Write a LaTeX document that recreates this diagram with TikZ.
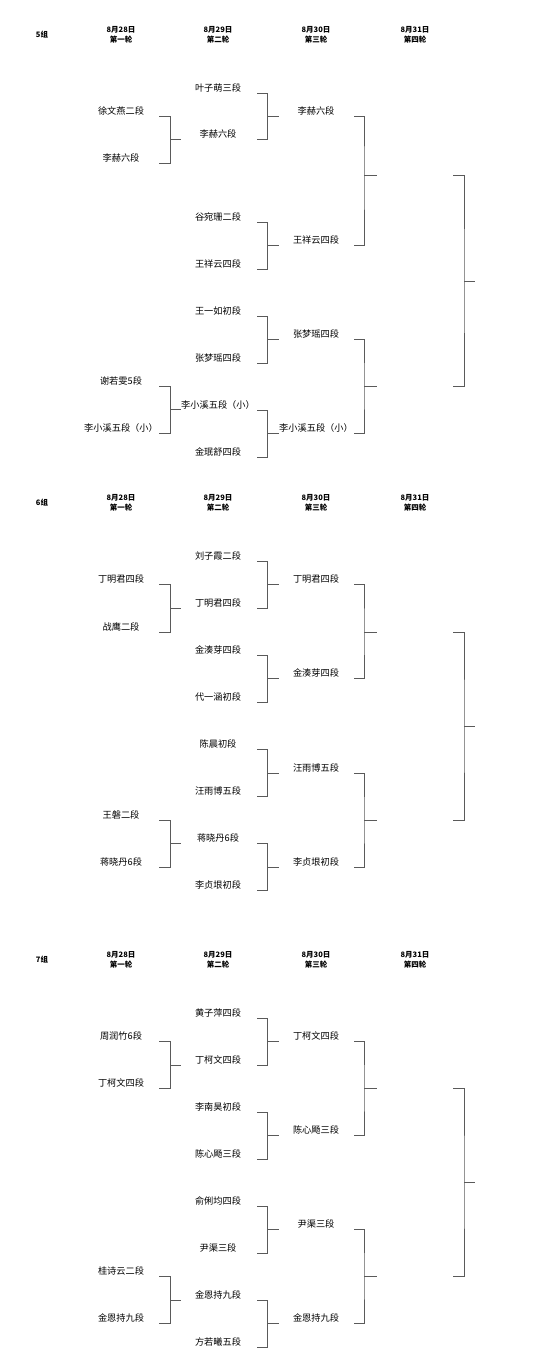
\documentclass[tikz,border=0pt]{standalone}
\usepackage{fontspec}
\setmainfont{Noto Sans CJK SC}
\definecolor{lnc}{RGB}{90,90,90}
\tikzset{
  nm/.style={font=\fontsize{9.2}{11}\selectfont, text=black, inner sep=0pt},
  hd/.style={font=\bfseries\fontsize{7.5}{9.6}\selectfont, text=black, inner sep=0pt, align=center},
  bline/.style={draw=lnc, line width=0.8pt}
}
% bracket: #1 name, #2 x left, #3 x vertical, #4 x stub end, #5 y top, #6 y bottom, #7 y stub
\newcommand\brk[7]{%
  \coordinate (#1t) at (#2,#5);
  \coordinate (#1b) at (#2,#6);
  \coordinate (#1m) at (#3,#7);
  \coordinate (#1s) at (#4,#7);
  \draw[bline] (#1t) -| (#1m) |- (#1b);
  \draw[bline] (#1m) -- (#1s);
}
\newcommand\rA[6]{\brk{#1}{159}{170.5}{181}{#2}{#3}{#4}}
\newcommand\rB[6]{\brk{#1}{257}{267.5}{279}{#2}{#3}{#4}}
\newcommand\rC[6]{\brk{#1}{354}{364}{377}{#2}{#3}{#4}}
\newcommand\rD[6]{\brk{#1}{453}{464}{475}{#2}{#3}{#4}}
\newcommand\hdrs[2]{%
  \node[hd] (#1g) at (42,#2+5) {#1组};
  \node[hd] (#1h1) at (121,#2+5) {8月28日\\第一轮};
  \node[hd] (#1h2) at (218,#2+5) {8月29日\\第二轮};
  \node[hd] (#1h3) at (316,#2+5) {8月30日\\第三轮};
  \node[hd] (#1h4) at (415,#2+5) {8月31日\\第四轮};
}
\begin{document}
\begin{tikzpicture}[x=1pt,y=-1pt]
\useasboundingbox (0,0) rectangle (550,1371);
% ---------------- group 5 ----------------
\hdrs{5}{30}
\node[nm] (a11) at (121,111) {徐文燕二段};
\node[nm] (a12) at (121,158) {李赫六段};
\node[nm] (a13) at (121,381) {谢若雯5段};
\node[nm] (a14) at (121,428) {李小溪五段（小）};
\node[nm] (a21) at (218,88) {叶子萌三段};
\node[nm] (a22) at (218,134) {李赫六段};
\node[nm] (a23) at (218,217) {谷宛珊二段};
\node[nm] (a24) at (218,264) {王祥云四段};
\node[nm] (a25) at (218,311) {王一如初段};
\node[nm] (a26) at (218,358) {张梦瑶四段};
\node[nm] (a27) at (218,405) {李小溪五段（小）};
\node[nm] (a28) at (218,452) {金珉舒四段};
\node[nm] (a31) at (316,111) {李赫六段};
\node[nm] (a32) at (316,240) {王祥云四段};
\node[nm] (a33) at (316,334) {张梦瑶四段};
\node[nm] (a34) at (316,428) {李小溪五段（小）};
\rA{ab11}{116}{163}{139.5}{}{}
\rA{ab12}{386}{433}{409.5}{}{}
\rB{ab21}{93}{139}{116}{}{}
\rB{ab22}{222}{269}{245.5}{}{}
\rB{ab23}{316}{363}{339.5}{}{}
\rB{ab24}{410}{457}{433.5}{}{}
\rC{ab31}{116}{245.5}{175}{}{}
\rC{ab32}{339.5}{433.5}{386}{}{}
\rD{ab41}{175}{386}{281}{}{}
% ---------------- group 6 ----------------
\hdrs{6}{498}
\node[nm] (b11) at (121,579) {丁明君四段};
\node[nm] (b12) at (121,627) {战鹰二段};
\node[nm] (b13) at (121,815) {王磐二段};
\node[nm] (b14) at (121,862) {蒋晓丹6段};
\node[nm] (b21) at (218,556) {刘子霞二段};
\node[nm] (b22) at (218,603) {丁明君四段};
\node[nm] (b23) at (218,650) {金湊芽四段};
\node[nm] (b24) at (218,697) {代一涵初段};
\node[nm] (b25) at (218,744) {陈晨初段};
\node[nm] (b26) at (218,791) {汪雨博五段};
\node[nm] (b27) at (218,838) {蒋晓丹6段};
\node[nm] (b28) at (218,885) {李贞垠初段};
\node[nm] (b31) at (316,579) {丁明君四段};
\node[nm] (b32) at (316,673) {金湊芽四段};
\node[nm] (b33) at (316,768) {汪雨博五段};
\node[nm] (b34) at (316,862) {李贞垠初段};
\rA{bb11}{584}{632}{608}{}{}
\rA{bb12}{820}{867}{843}{}{}
\rB{bb21}{561}{608}{584}{}{}
\rB{bb22}{655}{702}{678}{}{}
\rB{bb23}{749}{796}{773}{}{}
\rB{bb24}{843}{890}{867}{}{}
\rC{bb31}{584}{678}{632}{}{}
\rC{bb32}{773}{867}{820}{}{}
\rD{bb41}{632}{820}{726}{}{}
% ---------------- group 7 ----------------
\hdrs{7}{955}
\node[nm] (c11) at (121,1036) {周润竹6段};
\node[nm] (c12) at (121,1083) {丁柯文四段};
\node[nm] (c13) at (121,1271) {桂诗云二段};
\node[nm] (c14) at (121,1318) {金恩持九段};
\node[nm] (c21) at (218,1013) {黄子萍四段};
\node[nm] (c22) at (218,1060) {丁柯文四段};
\node[nm] (c23) at (218,1107) {李南昊初段};
\node[nm] (c24) at (218,1154) {陈心飏三段};
\node[nm] (c25) at (218,1201) {俞俐均四段};
\node[nm] (c26) at (218,1248) {尹渠三段};
\node[nm] (c27) at (218,1295) {金恩持九段};
\node[nm] (c28) at (218,1342) {方若曦五段};
\node[nm] (c31) at (316,1036) {丁柯文四段};
\node[nm] (c32) at (316,1130) {陈心飏三段};
\node[nm] (c33) at (316,1224) {尹渠三段};
\node[nm] (c34) at (316,1318) {金恩持九段};
\rA{cb11}{1041}{1088}{1065}{}{}
\rA{cb12}{1276}{1323}{1300}{}{}
\rB{cb21}{1018}{1065}{1041}{}{}
\rB{cb22}{1112}{1159}{1135}{}{}
\rB{cb23}{1206}{1253}{1229}{}{}
\rB{cb24}{1300}{1347}{1323}{}{}
\rC{cb31}{1041}{1135}{1088}{}{}
\rC{cb32}{1229}{1323}{1276}{}{}
\rD{cb41}{1088}{1276}{1182}{}{}
\end{tikzpicture}
\end{document}
